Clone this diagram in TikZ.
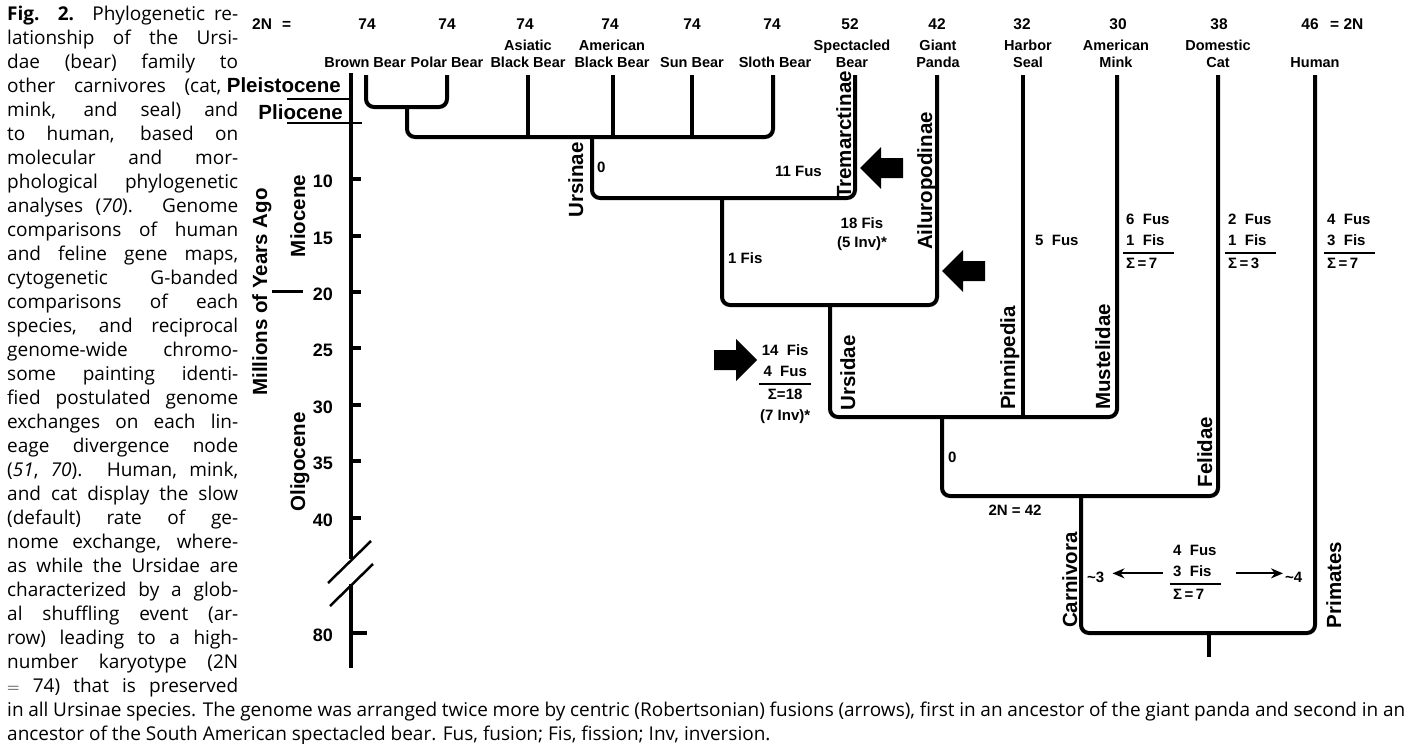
\documentclass[tikz,border=0pt]{standalone}
\usepackage{fontspec}
\setmainfont{Liberation Sans}
\newfontfamily\capfont{Open Sans}
\usetikzlibrary{arrows.meta}
\tikzset{>={Stealth[length=12pt,width=10pt]},every node/.style={inner sep=0pt},
 branch/.style={line width=4pt,rounded corners=8pt},axis/.style={line width=3.5pt},thin rule/.style={line width=2.5pt},
 species/.style={anchor=base,align=center,font=\bfseries\fontsize{14.5}{17}\selectfont},
 chrom/.style={anchor=base,font=\bfseries\fontsize{15.5}{18}\selectfont},
 clade/.style={rotate=90,anchor=base,font=\bfseries\fontsize{20.5}{24}\selectfont},
 epoch/.style={anchor=base east,font=\bfseries\fontsize{20.5}{24}\selectfont},
 note/.style={font=\bfseries\fontsize{15}{19}\selectfont},
 age/.style={anchor=base east,font=\bfseries\fontsize{18}{20}\selectfont},
 capline/.style={anchor=base west,font=\capfont\fontsize{19}{24}\selectfont}}
\setlength{\arrayrulewidth}{1.6pt}\renewcommand{\arraystretch}{1.1}
\newcommand{\tally}[3]{\begin{tabular}{@{\hspace{3pt}}l@{\hspace{4pt}}}#1\\#2\\\hline Σ\,=\,#3\end{tabular}}
\newcommand{\fusarrow}[3]{\fill (#1,#2)--++({#3*21},-21)--++(0,11)--++({#3*22},0)--++(0,20)--++({-(#3)*22},0)--++(0,11)--cycle;}

\begin{document}
\begin{tikzpicture}[x=1pt,y=-1pt]
\useasboundingbox (0,0) rectangle (1411,744);
% caption
\foreach \t/\w [count=\i] in {{\textbf{Fig. 2.} Phylogenetic re-}/231,{lationship of the Ursi-}/231,{dae (bear) family to}/231,{other carnivores (cat,}/214,{mink, and seal) and}/231,{to human, based on}/231,{molecular and mor-}/231,{phological phylogenetic}/231,{analyses (\textit{70}). Genome}/231,{comparisons of human}/231,{and feline gene maps,}/231,{cytogenetic G-banded}/231,{comparisons of each}/231,{species, and reciprocal}/231,{genome-wide chromo-}/231,{some painting identi-}/231,{fied postulated genome}/231,{exchanges on each lin-}/231,{eage divergence node}/231,{(\textit{51}, \textit{70}). Human, mink,}/231,{and cat display the slow}/231,{(default) rate of ge-}/231,{nome exchange, where-}/231,{as while the Ursidae are}/231,{characterized by a glob-}/231,{al shuffling event (ar-}/231,{row) leading to a high-}/231,{number karyotype (2N}/231,{$=$ 74) that is preserved}/231}
 \node[capline] (cap\i) at (7,{20+24*(\i-1)}){\makebox[\w pt][s]{\t}};
\node[capline] (cap30) at (7,716){\makebox[1398pt][s]{in all Ursinae species. The genome was arranged twice more by centric (Robertsonian) fusions (arrows), first in an ancestor of the giant panda and second in an}};
\node[capline] (cap31) at (7,740){ancestor of the South American spectacled bear. Fus, fusion; Fis, fission; Inv, inversion.};
% time axis
\draw[axis] (351,73)--(351,559) (351,584)--(351,668);
\draw[thin rule] (328,583)--(371,541) (330,606)--(373,564);
\foreach \v/\y in {10/179,15/236,20/292,25/348,30/405,35/461,40/518}{\draw[axis] (351,\y)--(361,\y);\node[age] (a\v) at (333,\y+8){\v};}
\draw[axis] (351,633)--(367,633);\node[age] (a80) at (333,641){80};
\draw[thin rule] (287,99)--(351,99) (287,123)--(362,123);\draw[line width=3pt] (272,291)--(303,291);
\node[epoch] (pleis) at (341,92){Pleistocene};\node[epoch] (plio) at (343,119){Pliocene};
\node[clade] (mya) at (267,292){Millions of Years Ago};\node[clade] (mio) at (305,216){Miocene};\node[clade] (oligo) at (305,462){Oligocene};
% species and 2N
\node[chrom,anchor=base west] (lhs) at (252,29){2N\hspace{10pt}=};\node[chrom,anchor=base west] (rhs) at (1330,29){= 2N};
\foreach \x/\xn/\n/\s/\nm in {365/367/74/Brown Bear/brown,447/447/74/Polar Bear/polar,528/525/74/{Asiatic\\Black Bear}/asiatic,612/610/74/{American\\Black Bear}/amblack,692/692/74/Sun Bear/sun,775/772/74/Sloth Bear/sloth,852/850/52/{Spectacled\\Bear}/spect,938/937/42/{Giant\\Panda}/panda,1028/1022/32/{Harbor\\Seal}/seal,1116/1118/30/{American\\Mink}/mink,1218/1219/38/{Domestic\\Cat}/cat,1315/1310/46/Human/human}
 {\node[species] (\nm) at (\x,67){\s};\node[chrom] (n\nm) at (\xn,29){\n};}
% tree
\draw[branch] (366,75)--(366,107)--(447,107)--(447,75);
\draw[branch] (407,107)--(407,137)--(773,137)--(773,75);
\foreach \x in {528,613,692}\draw[branch] (\x,75)--(\x,137);
\draw[branch] (592,137)--(592,198)--(855,198)--(855,75);
\draw[branch] (722,198)--(722,305)--(937,305)--(937,75);
\draw[branch] (830,305)--(830,417)--(1117,417)--(1117,75);
\draw[branch] (1023,75)--(1023,417);
\draw[branch] (942,417)--(942,496)--(1218,496)--(1218,75);
\draw[branch] (1081,496)--(1081,633)--(1315,633)--(1315,75);
\draw[branch] (1209,633)--(1209,657);
% clades
\node[clade] (ursinae) at (583,180){Ursinae};\node[clade] (trem) at (851,135){Tremarctinae};\node[clade] (ailuro) at (932,181){Ailuropodinae};
\node[clade] (ursidae) at (855,373){Ursidae};\node[clade] (pinni) at (1015,358){Pinnipedia};\node[clade] (mustel) at (1110,357){Mustelidae};
\node[clade] (felid) at (1212,452){Felidae};\node[clade] (carniv) at (1077,580){Carnivora};\node[clade] (prim) at (1341,585){Primates};
% exchanges
\node[note,anchor=base west] (zero1) at (597,172){0};\node[note,anchor=base east] (fus11) at (822,176){11 Fus};
\node[note,anchor=base,align=center] (fis18) at (862,247){18 Fis\\(5 Inv)*};\node[note,anchor=base west] (fis1) at (728,263){1 Fis};
\node[note,anchor=base west] (fus5) at (1035,245){5~~Fus};\node[note,anchor=base west] (zero2) at (948,462){0};
\node[note,anchor=base] (n42) at (1015,515){2N = 42};
\node[note,anchor=north west] (tursid) at (759,341){\begin{tabular}{@{\hspace{1pt}}c@{\hspace{1pt}}}14~~Fis\\4~~Fus\\\hline Σ=18\\(7 Inv)*\end{tabular}};
\node[note,anchor=north west] (tmink) at (1123,210){\tally{6~~Fus}{1~~Fis}{7}};
\node[note,anchor=north west] (tcat) at (1225,210){\tally{2~~Fus}{1~~Fis}{3}};
\node[note,anchor=north west] (thuman) at (1324,210){\tally{4~~Fus}{3~~Fis}{7}};
\node[note,anchor=north west] (tcarn) at (1170,541){\tally{4~~Fus}{3~~Fis}{7}};
\node[note,anchor=base west] (til3) at (1087,582){\textasciitilde3};\node[note,anchor=base west] (til4) at (1285,582){\textasciitilde4};
\draw[->,line width=2pt,shorten <=7pt,shorten >=8pt] (tcarn.west)--(tcarn.west-|til3.east);
\draw[->,line width=2pt,shorten <=15pt,shorten >=2pt] (tcarn.east)--(tcarn.east-|til4.west);
% fusion arrows
\fusarrow{860}{168}{1}\fusarrow{942}{271}{1}\fusarrow{757}{360}{-1}
\end{tikzpicture}
\end{document}
